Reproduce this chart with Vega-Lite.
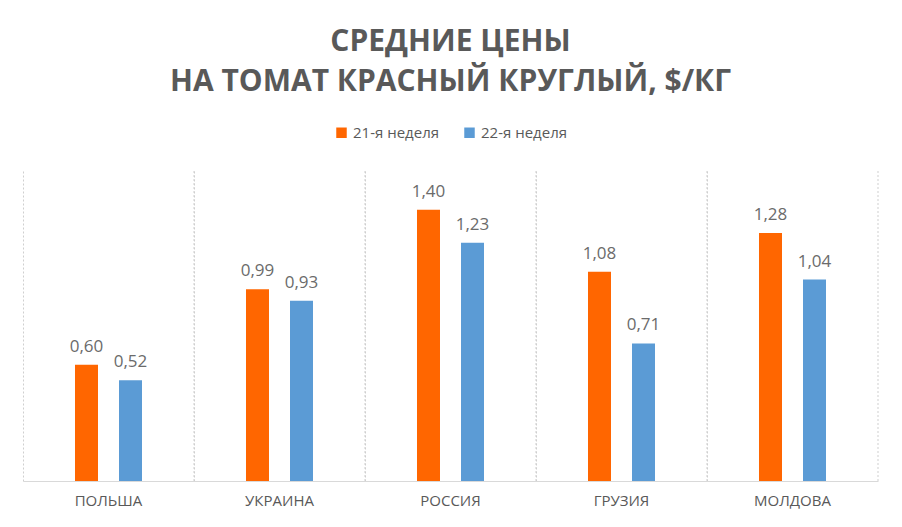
{
  "$schema": "https://vega.github.io/schema/vega-lite/v6.json",
  "width": 855,
  "height": 310,
  "autosize": {"type": "none"},
  "padding": {"left": 23, "top": 171, "right": 24, "bottom": 46},
  "background": "white",
  "config": {
    "locale": {"number": {"decimal": ",", "thousands": " ", "grouping": [3], "currency": ["", "$"]}},
    "view": {"stroke": null},
    "font": "Open Sans",
    "legend": {"layout": {"top": {"anchor": "middle"}}}
  },
  "title": {
    "text": ["СРЕДНИЕ ЦЕНЫ", "НА ТОМАТ КРАСНЫЙ КРУГЛЫЙ, $/КГ"],
    "anchor": "middle",
    "frame": "group",
    "fontSize": 30,
    "fontWeight": "bold",
    "color": "#595959",
    "lineHeight": 40,
    "offset": 28
  },
  "data": {
    "values": [
      {"country": "ПОЛЬША", "week": "21-я неделя", "value": 0.60},
      {"country": "ПОЛЬША", "week": "22-я неделя", "value": 0.52},
      {"country": "УКРАИНА", "week": "21-я неделя", "value": 0.99},
      {"country": "УКРАИНА", "week": "22-я неделя", "value": 0.93},
      {"country": "РОССИЯ", "week": "21-я неделя", "value": 1.40},
      {"country": "РОССИЯ", "week": "22-я неделя", "value": 1.23},
      {"country": "ГРУЗИЯ", "week": "21-я неделя", "value": 1.08},
      {"country": "ГРУЗИЯ", "week": "22-я неделя", "value": 0.71},
      {"country": "МОЛДОВА", "week": "21-я неделя", "value": 1.28},
      {"country": "МОЛДОВА", "week": "22-я неделя", "value": 1.04}
    ]
  },
  "encoding": {
    "x": {
      "field": "country",
      "type": "nominal",
      "sort": ["ПОЛЬША", "УКРАИНА", "РОССИЯ", "ГРУЗИЯ", "МОЛДОВА"],
      "scale": {"paddingInner": 0, "paddingOuter": 0},
      "axis": {
        "title": null,
        "labelAngle": 0,
        "labelFontSize": 15,
        "labelColor": "#595959",
        "labelPadding": 12,
        "ticks": false,
        "domainColor": "#d9d9d9",
        "domainWidth": 1,
        "grid": true,
        "bandPosition": 0,
        "gridColor": "#cfcfcf",
        "gridDash": [2, 2],
        "gridWidth": 1
      }
    }
  },
  "layer": [
    {
      "mark": {"type": "bar", "width": 23},
      "encoding": {
        "xOffset": {"field": "week", "type": "nominal", "scale": {"paddingInner": 0, "paddingOuter": 0.943}},
        "y": {"field": "value", "type": "quantitative", "scale": {"domain": [0, 1.6]}, "axis": null},
        "color": {
          "field": "week",
          "type": "nominal",
          "scale": {"domain": ["21-я неделя", "22-я неделя"], "range": ["#FF6600", "#5B9BD5"]},
          "legend": {
            "title": null,
            "orient": "top",
            "direction": "horizontal",
            "symbolType": "square",
            "symbolSize": 110,
            "symbolStrokeWidth": 0,
            "labelFontSize": 15,
            "labelColor": "#595959",
            "columnPadding": 22,
            "offset": 30
          }
        }
      }
    },
    {
      "mark": {"type": "text", "baseline": "alphabetic", "dy": -13, "fontSize": 17, "color": "#6b6b6b"},
      "encoding": {
        "xOffset": {"field": "week", "type": "nominal", "scale": {"paddingInner": 0, "paddingOuter": 0.943}},
        "y": {"field": "value", "type": "quantitative"},
        "text": {"field": "value", "type": "quantitative", "format": ".2f"}
      }
    },
    {
      "transform": [{"filter": "datum.week === '21-я неделя'"}],
      "mark": {"type": "rule", "color": "#cfcfcf", "strokeDash": [2, 2], "strokeWidth": 1},
      "encoding": {
        "x": {"field": "country", "type": "nominal", "bandPosition": 1, "sort": ["ПОЛЬША", "УКРАИНА", "РОССИЯ", "ГРУЗИЯ", "МОЛДОВА"]}
      }
    }
  ]
}
